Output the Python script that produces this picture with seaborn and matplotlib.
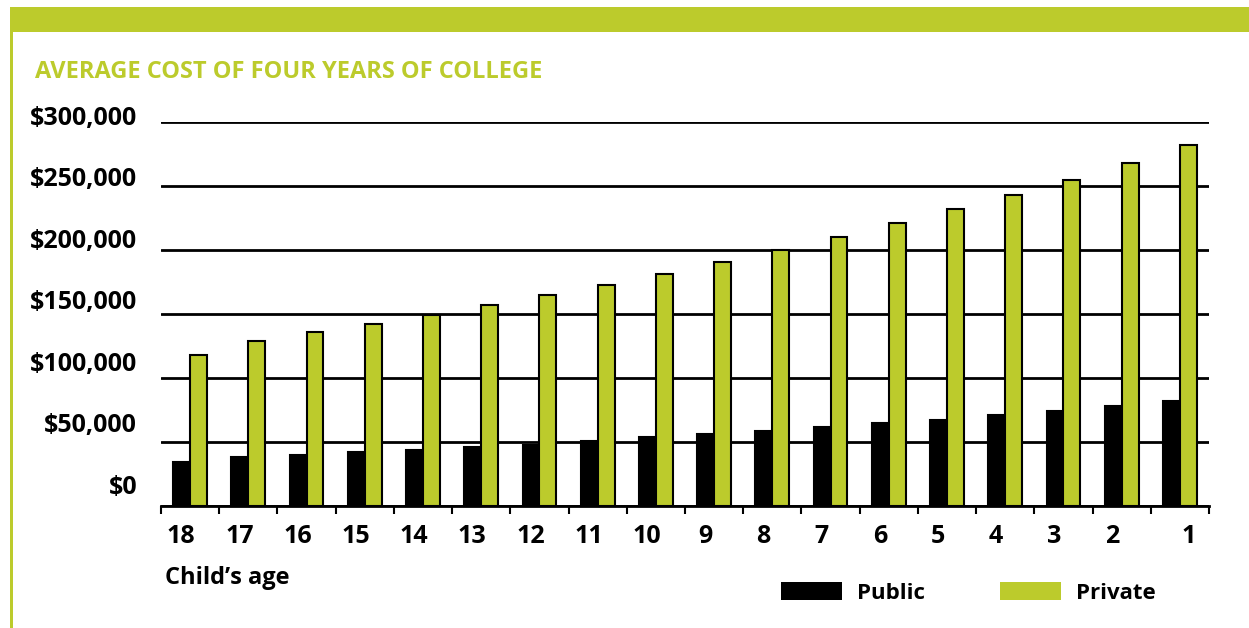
"""
Average cost of four years of college by child's age (public vs private).
"""

import numpy as np
import pandas as pd
import matplotlib
matplotlib.use("Agg")
import matplotlib.pyplot as plt
import matplotlib.transforms as mtransforms
from matplotlib.patches import Patch, Rectangle
import seaborn as sns

# ── Data ───────────────────────────────────────────────────────────────────────
ages = ["18", "17", "16", "15", "14", "13", "12", "11", "10",
        "9", "8", "7", "6", "5", "4", "3", "2", "1"]
public_cost = [34000, 38000, 40000, 42000, 44000, 46000, 48000, 51000, 54000,
               56000, 58500, 61500, 64500, 67500, 71000, 74500, 78500, 82000]
private_cost = [118000, 129000, 136000, 142000, 149000, 157000, 165000, 173000, 181000,
                191000, 200000, 210000, 221000, 232000, 243000, 255000, 268000, 282000]
y_ticks = [0, 50000, 100000, 150000, 200000, 250000, 300000]
y_tick_labels = ["$0", "$50,000", "$100,000", "$150,000", "$200,000", "$250,000", "$300,000"]
series = ["Public", "Private"]

GREEN = "#BCCB2C"
FONT = "Open Sans"

df = pd.DataFrame({
    "age": ages * 2,
    "cost": public_cost + private_cost,
    "type": [series[0]] * len(ages) + [series[1]] * len(ages),
})

# ── Plot ───────────────────────────────────────────────────────────────────────
sns.set_style("white")
plt.rcParams["font.family"] = [FONT, "DejaVu Sans"]
plt.rcParams["font.weight"] = "bold"
plt.rcParams["text.color"] = "black"
plt.rcParams["xtick.color"] = "black"
plt.rcParams["ytick.color"] = "black"

W, H = 1249, 628
fig = plt.figure(figsize=(W / 100, H / 100), dpi=100)
ax = fig.add_axes([161 / W, 1 - 506 / H, (1209 - 161) / W, (506 - 122) / H])

sns.barplot(data=df, x="age", y="cost", hue="type", order=ages, hue_order=series,
            palette=["black", GREEN], saturation=1, width=0.58, edgecolor="black",
            linewidth=1.5, ax=ax, legend=False, zorder=3)

ax.set_ylim(0, 300000)
ax.set_xlim(-0.5, len(ages) - 0.5)
ax.set_axisbelow(True)
ax.yaxis.grid(True, color="black", linewidth=2)
ax.xaxis.grid(False)
for side in ["top", "right", "left"]:
    ax.spines[side].set_visible(False)
ax.spines["bottom"].set_color("black")
ax.spines["bottom"].set_linewidth(2)

# y labels drawn as text so they can drift upward slightly, as in the original
ax.set_yticks(y_ticks)
ax.set_yticklabels([])
ax.tick_params(axis="y", length=0)
for i, (val, lab) in enumerate(zip(y_ticks, y_tick_labels)):
    dy = 19 - 15 * i / (len(y_ticks) - 1)
    trans = mtransforms.offset_copy(ax.get_yaxis_transform(), fig=fig,
                                    x=-24, y=dy, units="dots")
    ax.text(0, val, lab, transform=trans, ha="right", va="center",
            fontsize=18, fontweight="bold", color="black")

ax.set_xticks(np.arange(len(ages)))
ax.set_xticklabels(ages, fontsize=18, fontweight="bold", color="black")
ax.set_xticks(np.arange(len(ages) + 1) - 0.5, minor=True)
ax.tick_params(axis="x", which="major", length=0, pad=13)
ax.tick_params(axis="x", which="minor", bottom=True, length=6, width=1.5,
               color="black", direction="out")
for i, lab in enumerate(ax.get_xticklabels()):
    dx = 9 if i == len(ages) - 1 else -9
    lab.set_transform(lab.get_transform() +
                      mtransforms.ScaledTranslation(dx / 100, 0, fig.dpi_scale_trans))
ax.set_xlabel("")
ax.set_ylabel("")

# frame decoration: green band on top and thin green line on the left
fig.add_artist(Rectangle((10 / W, 1 - 32 / H), 1 - 10 / W, 25 / H,
                         transform=fig.transFigure, color=GREEN, lw=0))
fig.add_artist(Rectangle((10 / W, 0), 3 / W, 1 - 32 / H,
                         transform=fig.transFigure, color=GREEN, lw=0))

fig.text(35 / W, 1 - 72 / H, "AVERAGE COST OF FOUR YEARS OF COLLEGE",
         color=GREEN, fontsize=17, fontweight="bold", va="center", ha="left")
fig.text(165 / W, 1 - 578 / H, "Child\u2019s age", color="black",
         fontsize=17, fontweight="bold", va="center", ha="left")

handles = [Patch(facecolor="black", edgecolor="none"), Patch(facecolor=GREEN, edgecolor="none")]
leg = fig.legend(handles, series, loc="center left", bbox_to_anchor=(761 / W, 1 - 593 / H),
                 ncol=2, frameon=False, prop={"family": FONT, "weight": "bold", "size": 16},
                 handlelength=2.75, handleheight=0.85, handletextpad=0.65, columnspacing=3.4)
for t in leg.get_texts():
    t.set_color("black")

fig.savefig("out.png", dpi=100)
plt.close(fig)
